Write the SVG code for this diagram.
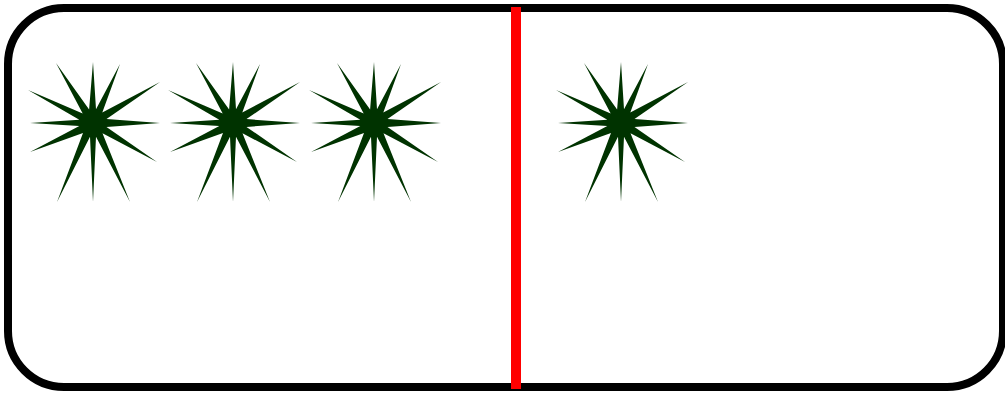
<svg xmlns="http://www.w3.org/2000/svg" xmlns:xlink="http://www.w3.org/1999/xlink" width="1005" height="398" viewBox="0 0 1005 398">
<style>
.frame{fill:#fff;stroke:#000;stroke-width:8}
.star{fill:#003300}
.divider{stroke:#ff0000;stroke-width:10}
</style>
<defs>
<path id="starShape" class="star" d="M0,-61 L3,-13.7 L27,-59 L9.3,-10.5 L67,-41 L13.5,-3.9 L67,0 L13.5,3.9 L64,39 L9.5,10.3 L37,79 L3,13.7 L0,79 L-3,13.7 L-36,79 L-10,10 L-63,29 L-13.7,3 L-63,0 L-13.7,-3.3 L-65,-33 L-10.3,-9.5 L-37,-60 L-3.9,-13.5 Z"/>
</defs>
<g id="frame"><rect class="frame" x="8" y="8" width="995" height="379" rx="56" ry="56"/></g>
<g id="star1"><use xlink:href="#starShape" href="#starShape" x="93" y="123"/></g>
<g id="star2"><use xlink:href="#starShape" href="#starShape" x="233" y="123"/></g>
<g id="star3"><use xlink:href="#starShape" href="#starShape" x="374" y="123"/></g>
<g id="star4"><use xlink:href="#starShape" href="#starShape" x="621" y="123"/></g>
<g id="connectors"><line class="divider" x1="516" y1="7" x2="516" y2="389"/></g>
</svg>
